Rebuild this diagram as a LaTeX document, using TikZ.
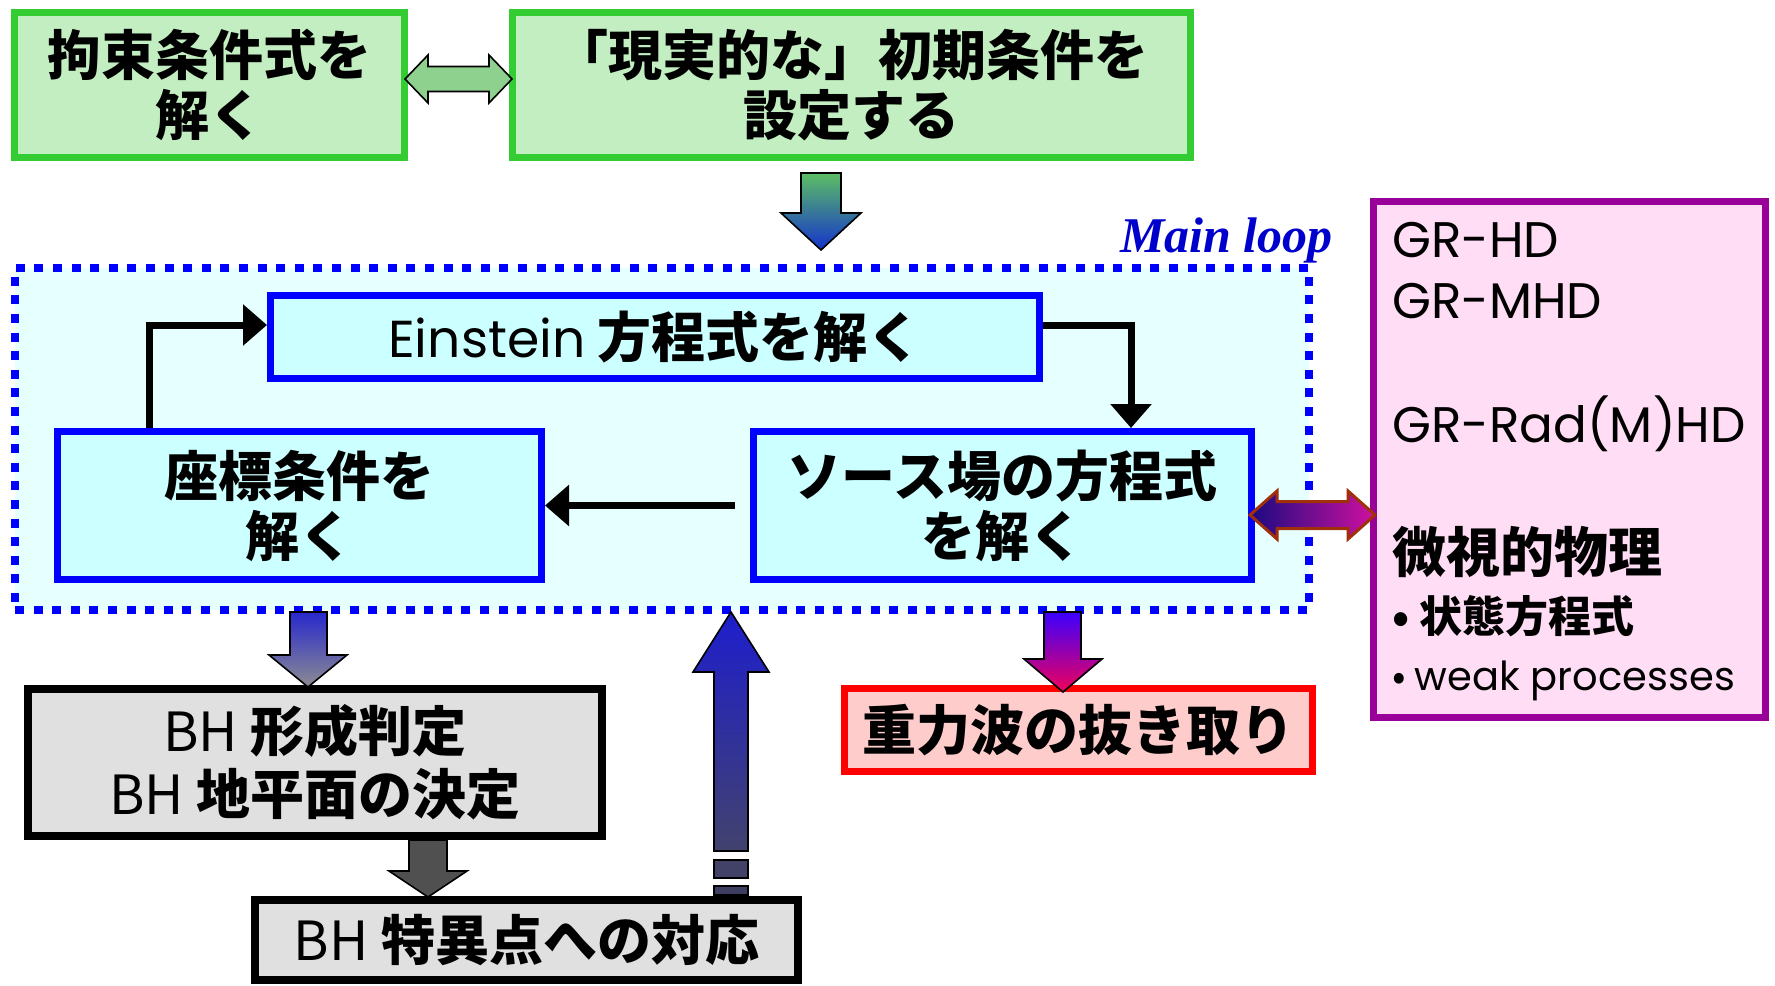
\documentclass[tikz,border=0pt]{standalone}
\usepackage{fontspec}
\setmainfont{Noto Sans CJK JP}
\newfontfamily\comic{Poppins}
\newfontfamily\tnr{Liberation Serif}
\usetikzlibrary{arrows.meta,calc}
\definecolor{gfill}{RGB}{194,238,194}
\definecolor{gbord}{RGB}{51,204,51}
\definecolor{loopfill}{RGB}{230,255,255}
\definecolor{cfill}{RGB}{204,255,255}
\definecolor{pfill}{RGB}{255,221,245}
\definecolor{pbord}{RGB}{153,0,153}
\definecolor{grayfill}{RGB}{224,224,224}
\definecolor{rfill}{RGB}{255,204,204}
\definecolor{garrow}{RGB}{142,208,142}
\definecolor{loopblue}{RGB}{0,0,255}
\definecolor{mltext}{RGB}{0,0,204}
\definecolor{brownline}{RGB}{160,48,10}
\begin{document}
\begin{tikzpicture}[x=0.5pt,y=-0.5pt,
  box/.style={draw, line width=3.5pt, inner sep=0pt, align=center,
    font=\fontsize{27}{30}\selectfont\bfseries},
  conn/.style={line width=3.5pt, -{Triangle[length=12pt,width=20pt]}},
  blk/.style={draw=black, line width=0.8pt, line join=miter},
  ptext/.style={anchor=base west, inner sep=0pt, font=\fontsize{25}{30}\selectfont}]
\useasboundingbox[fill=white] (0,0) rectangle (1775,985);

% main loop
\node[draw=loopblue, fill=loopfill, line width=4pt, dash pattern=on 4.5pt off 4.8pt,
  minimum width=647pt, minimum height=171pt, inner sep=0pt] (loop) at (662,439) {};
\node[anchor=base east, inner sep=0pt, text=mltext,
  font=\fontsize{25}{30}\selectfont\tnr\bfseries\itshape] (mlt) at (1333,252) {Main loop};

% top boxes
\node[box, draw=gbord, fill=gfill, minimum width=195pt, minimum height=72.5pt] (cons) at (209.5,85) {拘束条件式を\\解く};
\node[box, draw=gbord, fill=gfill, minimum width=339pt, minimum height=72.5pt] (init) at (851.5,85) {「現実的な」初期条件を\\設定する};

% loop boxes
\node[box, draw=loopblue, fill=cfill, minimum width=384.5pt, minimum height=41.5pt] (ein) at (655,337) {{\comic\mdseries\fontsize{26}{30}\selectfont Einstein} 方程式を解く};
\node[box, draw=loopblue, fill=cfill, minimum width=242pt, minimum height=74pt] (crd) at (299.5,505.5) {座標条件を\\解く};
\node[box, draw=loopblue, fill=cfill, minimum width=249pt, minimum height=74pt] (src) at (1002.5,505.5) {ソース場の方程式\\を解く};

% purple box
\node[draw=pbord, fill=pfill, line width=3.5pt, minimum width=196pt, minimum height=258pt, inner sep=0pt] (phys) at (1569.5,459) {};
\node[ptext] (p1) at (1392,257) {\comic GR-HD};
\node[ptext] (p2) at (1392,318) {\comic GR-MHD};
\node[ptext] (p3) at (1392,442) {\comic GR-Rad(M)HD};
\node[ptext, font=\fontsize{27}{30}\selectfont\bfseries] (p4) at (1392,572) {微視的物理};
\node[ptext, font=\fontsize{21.5}{26}\selectfont\bfseries] (p5) at (1392,632) {• 状態方程式};
\node[ptext, font=\fontsize{20}{26}\selectfont] (p6) at (1392,690) {• {\comic weak processes}};

% bottom boxes
\node[box, draw=black, line width=4pt, fill=grayfill, minimum width=287pt, minimum height=73.5pt,
  font=\fontsize{27}{31.5}\selectfont\bfseries] (bhf) at (315,762) {{\mdseries BH} 形成判定\\{\mdseries BH} 地平面の決定};
\node[box, draw=black, line width=4pt, fill=grayfill, minimum width=271.5pt, minimum height=40pt] (bhs) at (526.5,940) {{\mdseries BH} 特異点への対応};
\node[box, draw=red, fill=rfill, minimum width=234pt, minimum height=41.5pt] (gw) at (1078.5,730) {重力波の抜き取り};

% black connectors
\coordinate (cR) at (1131,0);
\coordinate (cL) at (149,0);
\draw[conn] ($(ein.east)+(0,-12)$) -| (cR |- src.north);
\draw[conn] (cL |- crd.north) |- ($(ein.west)+(0,-12)$);
\draw[conn] ($(src.west)+(-15,0)$) -- (crd.east);

% block arrows
% green double arrow cons <-> init
\path[blk, fill=garrow] (405,79) -- (428,55) -- (428,66.5) -- (489,66.5) -- (489,55) -- (512,79)
  -- (489,103) -- (489,91.5) -- (428,91.5) -- (428,103) -- cycle;
% init -> loop
\path[blk, top color={rgb,255:red,92;green,190;blue,100}, bottom color={rgb,255:red,20;green,50;blue,205}]
  (801,173) -- (841,173) -- (841,213) -- (861,213) -- (821,250) -- (781,213) -- (801,213) -- cycle;
% loop -> BH formation
\path[blk, top color={rgb,255:red,40;green,40;blue,205}, bottom color={rgb,255:red,140;green,140;blue,145}]
  (290,612) -- (327,612) -- (327,655) -- (347,655) -- (308,687) -- (269,655) -- (290,655) -- cycle;
% BH formation -> BH singularity
\path[blk, fill={rgb,255:red,80;green,80;blue,80}]
  (409,840) -- (447,840) -- (447,871) -- (467,871) -- (428,897) -- (389,871) -- (409,871) -- cycle;
% BH singularity -> loop (up)
\path[blk, top color={rgb,255:red,30;green,30;blue,205}, bottom color={rgb,255:red,66;green,66;blue,110}]
  (731,612) -- (769,672) -- (748,672) -- (748,851) -- (714,851) -- (714,672) -- (693,672) -- cycle;
\path[blk, fill={rgb,255:red,66;green,66;blue,104}] (714,860) rectangle (748,878);
\path[blk, fill={rgb,255:red,62;green,62;blue,96}] (714,886) rectangle (748,895);
% loop -> GW
\path[blk, top color={rgb,255:red,60;green,0;blue,255}, bottom color={rgb,255:red,240;green,0;blue,90}]
  (1044,612) -- (1081,612) -- (1081,659) -- (1102,659) -- (1063,692) -- (1024,659) -- (1044,659) -- cycle;
% src <-> physics
\path[draw=brownline, line width=1.5pt, line join=miter, left color={rgb,255:red,26;green,10;blue,128}, right color={rgb,255:red,208;green,16;blue,160}]
  (1250,515) -- (1277,491) -- (1277,501.5) -- (1348,501.5) -- (1348,491) -- (1375,515)
  -- (1348,539) -- (1348,528.5) -- (1277,528.5) -- (1277,539) -- cycle;
\end{tikzpicture}
\end{document}
